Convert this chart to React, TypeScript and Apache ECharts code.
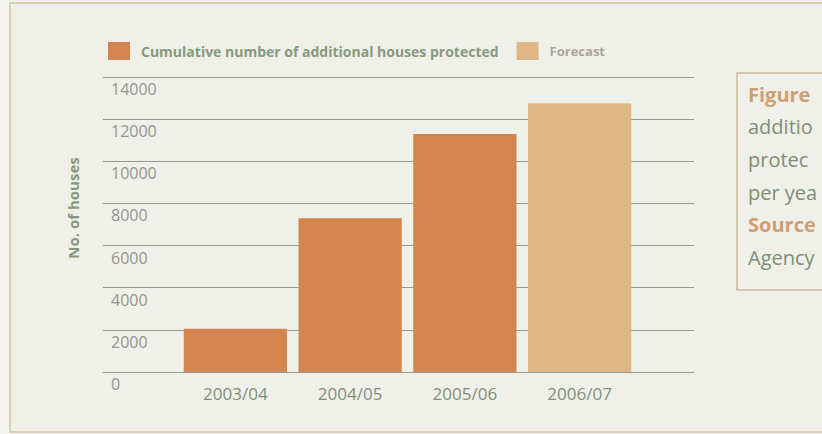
import React, { useEffect, useRef } from "react";
import * as echarts from "echarts";

const categories = ["2003/04", "2004/05", "2005/06", "2006/07"];
const protectedValues = [2050, 7300, 11300, null];
const forecastValues = [null, null, null, 12750];
const yTicks = { min: 0, max: 14000, interval: 2000 };
const seriesNames = ["Cumulative number of additional houses protected", "Forecast"];
const captionLines = [
  { text: "Figure", bold: true },
  { text: "additio", bold: false },
  { text: "protec", bold: false },
  { text: "per yea", bold: false },
  { text: "Source", bold: true },
  { text: "Agency", bold: false },
];

const FONT = "'Open Sans', sans-serif";

export default function App() {
  const ref = useRef<HTMLDivElement>(null);
  useEffect(() => {
    document.body.style.margin = "0";
    if (!ref.current) return;
    const chart = echarts.init(ref.current, null, { renderer: "svg" });
    const captionGraphics: any[] = captionLines.map((l, i) => ({
      type: "text",
      x: 748,
      y: 94 + i * 32.7,
      style: {
        text: l.text,
        font: `${l.bold ? "bold " : ""}20px ${FONT}`,
        fill: l.bold ? "#cf9f72" : "#7e8f74",
        verticalAlign: "middle",
      },
    }));
    chart.setOption({
      animation: false,
      backgroundColor: "#f0f0ea",
      textStyle: { fontFamily: FONT },
      legend: {
        left: 103,
        top: 37,
        itemWidth: 22,
        itemHeight: 18,
        itemGap: 18,
        icon: "rect",
        data: [
          { name: seriesNames[0], textStyle: { color: "#879a7c", fontWeight: "bold", fontSize: 14, padding: [0, 0, 0, 6] } },
          { name: seriesNames[1], textStyle: { color: "#aaa698", fontWeight: "bold", fontSize: 13, padding: [0, 0, 0, 6] } },
        ],
      },
      grid: [
        { left: 103, width: 591, top: 77, height: 295 },
        { left: 178, width: 459, top: 77, height: 295 },
      ],
      xAxis: [
        { type: "value", gridIndex: 0, show: false, min: 0, max: 1 },
        {
          type: "category",
          gridIndex: 1,
          data: categories,
          axisLine: { show: false },
          axisTick: { show: false },
          axisLabel: { color: "#7f8f78", fontSize: 17, margin: 13, fontFamily: FONT },
        },
      ],
      yAxis: [
        {
          type: "value",
          gridIndex: 0,
          min: yTicks.min,
          max: yTicks.max,
          interval: yTicks.interval,
          axisLine: { show: false },
          axisTick: { show: false },
          splitLine: { show: true, lineStyle: { color: "#989a92", width: 1.2 } },
          axisLabel: {
            inside: true,
            align: "left",
            verticalAlign: "top",
            padding: [4, 0, 0, 0],
            color: "#93968e",
            fontSize: 16,
            fontFamily: FONT,
            formatter: (v: number) => String(v),
          },
        },
        { type: "value", gridIndex: 1, min: yTicks.min, max: yTicks.max, show: false, splitLine: { show: false } },
      ],
      series: [
        {
          name: seriesNames[0],
          type: "bar",
          stack: "all",
          xAxisIndex: 1,
          yAxisIndex: 1,
          data: protectedValues,
          barCategoryGap: "10%",
          itemStyle: { color: "#d3854f" },
        },
        {
          name: seriesNames[1],
          type: "bar",
          stack: "all",
          xAxisIndex: 1,
          yAxisIndex: 1,
          data: forecastValues,
          barCategoryGap: "10%",
          itemStyle: { color: "#e0b686" },
        },
      ],
      graphic: [
        { type: "rect", z: -10, shape: { x: 0, y: 0, width: 10, height: 434 }, style: { fill: "#f5f5f1" } },
        {
          type: "rect",
          shape: { x: 10, y: 3, width: 830, height: 429 },
          style: { fill: "none", stroke: "#d2c2a4", lineWidth: 1.5 },
        },
        {
          type: "rect",
          shape: { x: 737, y: 73, width: 120, height: 217 },
          style: { fill: "none", stroke: "#c9bb9b", lineWidth: 1.5 },
        },
        {
          type: "text",
          x: 73,
          y: 208,
          rotation: Math.PI / 2,
          style: {
            text: "No. of houses",
            font: `bold 15px ${FONT}`,
            fill: "#87997c",
            align: "center",
            verticalAlign: "middle",
          },
        },
        ...captionGraphics,
      ],
    });
    return () => chart.dispose();
  }, []);
  return <div ref={ref} style={{ width: 822, height: 434 }} />;
}
